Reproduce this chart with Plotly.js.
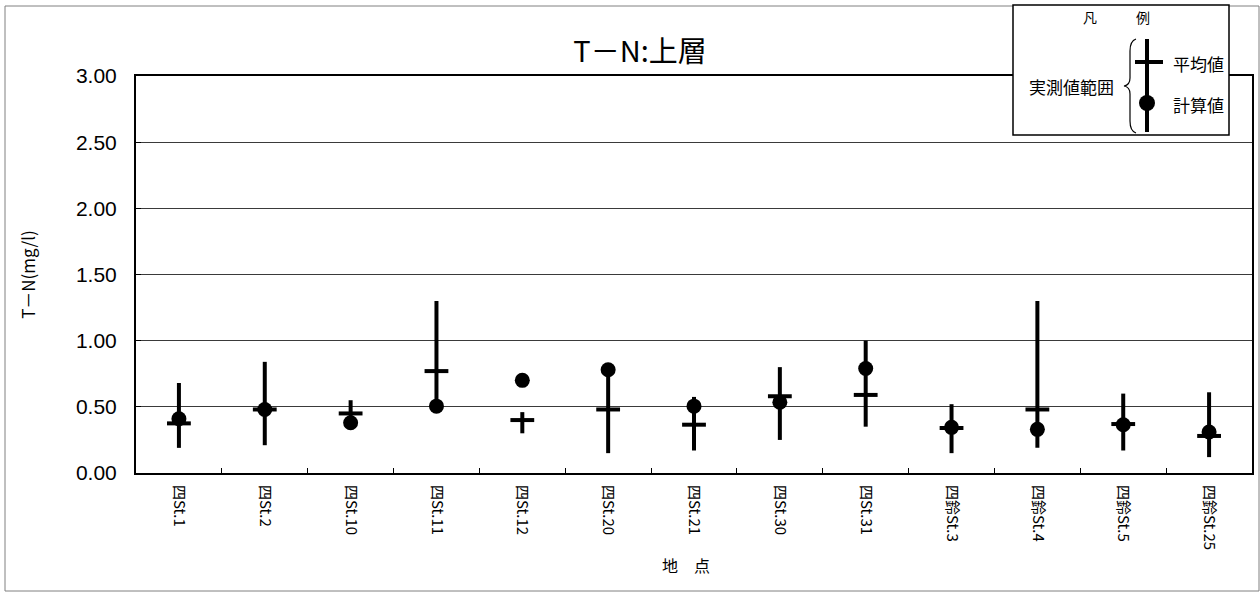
<!DOCTYPE html>
<html>
<head>
<meta charset="utf-8">
<script src="https://cdn.plot.ly/plotly-3.0.1.min.js"></script>
<style>html,body{margin:0;padding:0;background:#fff;}#chart{width:1260px;height:592px;}</style>
</head>
<body>
<div id="chart"></div>
<script>
// ---- data ----
const sites = ['四St.1','四St.2','四St.10','四St.11','四St.12','四St.20','四St.21','四St.30','四St.31','四鈴St.3','四鈴St.4','四鈴St.5','四鈴St.25'];
const rangeMax = [0.68, 0.84, 0.55, 1.30, 0.46, 0.78, 0.575, 0.80, 1.00, 0.52, 1.30, 0.60, 0.61];
const rangeMin = [0.19, 0.21, 0.38, 0.50, 0.30, 0.15, 0.17, 0.25, 0.35, 0.15, 0.19, 0.17, 0.12];
const meanVals = [0.375, 0.48, 0.45, 0.77, 0.40, 0.48, 0.365, 0.58, 0.59, 0.34, 0.48, 0.37, 0.28];
const calcVals = [0.41, 0.48, 0.38, 0.505, 0.70, 0.78, 0.505, 0.535, 0.79, 0.345, 0.33, 0.365, 0.31];
const yTicks = [0, 0.5, 1.0, 1.5, 2.0, 2.5, 3.0];

const FONT = "'Liberation Sans', Arial, 'Noto Sans CJK JP', sans-serif";
const JFONT = "'Noto Sans CJK JP', 'Liberation Sans', sans-serif";

// plot-area pixel box -> paper coordinate helpers (for the hand-drawn legend)
const W = 1260, H = 592;
const M = {l: 136, r: 8, t: 76, b: 119};
const L = M.l, R = W - M.r, T = M.t, B = H - M.b;
const px = x => (x - L) / (R - L);
const py = y => (B - y) / (B - T);

const traces = [
  {
    type: 'scatter', mode: 'markers', x: sites, y: meanVals,
    marker: {symbol: 'line-ew', size: 17, color: 'black', line: {color: 'black', width: 4}},
    error_y: {
      type: 'data', symmetric: false,
      array: rangeMax.map((v, i) => v - meanVals[i]),
      arrayminus: meanVals.map((v, i) => v - rangeMin[i]),
      thickness: 4, width: 0, color: 'black'
    },
    name: '平均値', hoverinfo: 'x+y'
  },
  {
    type: 'scatter', mode: 'markers', x: sites, y: calcVals,
    marker: {symbol: 'circle', size: 15, color: 'black'},
    name: '計算値', hoverinfo: 'x+y'
  }
];

const braceX = 1126, braceTop = 39, braceBot = 133, braceMid = 86;
const bracePath =
  `M ${px(braceX + 10)},${py(braceTop)} Q ${px(braceX + 4)},${py(braceTop + 2)} ${px(braceX + 4)},${py(braceTop + 12)} ` +
  `L ${px(braceX + 4)},${py(braceMid - 8)} Q ${px(braceX + 4)},${py(braceMid - 1)} ${px(braceX - 2)},${py(braceMid)} ` +
  `Q ${px(braceX + 4)},${py(braceMid + 1)} ${px(braceX + 4)},${py(braceMid + 8)} ` +
  `L ${px(braceX + 4)},${py(braceBot - 12)} Q ${px(braceX + 4)},${py(braceBot - 2)} ${px(braceX + 10)},${py(braceBot)}`;

const shapes = [
  // outer frame of the whole chart
  {type: 'rect', xref: 'paper', yref: 'paper', x0: px(5), x1: px(1259), y0: py(591), y1: py(6),
   line: {color: '#808080', width: 1}, layer: 'below'},
  // legend box
  {type: 'rect', xref: 'paper', yref: 'paper', x0: px(1013), x1: px(1229), y0: py(135), y1: py(5),
   fillcolor: 'white', line: {color: 'black', width: 1.5}, layer: 'above'},
  {type: 'line', xref: 'paper', yref: 'paper', x0: px(1147), x1: px(1147), y0: py(132), y1: py(39),
   line: {color: 'black', width: 4}, layer: 'above'},
  {type: 'line', xref: 'paper', yref: 'paper', x0: px(1135), x1: px(1163), y0: py(62), y1: py(62),
   line: {color: 'black', width: 4}, layer: 'above'},
  {type: 'circle', xref: 'paper', yref: 'paper', x0: px(1139), x1: px(1155), y0: py(111), y1: py(95),
   fillcolor: 'black', line: {color: 'black', width: 0}, layer: 'above'},
  {type: 'path', xref: 'paper', yref: 'paper', path: bracePath,
   line: {color: 'black', width: 1.2}, layer: 'above'}
];

const ann = (text, x, y, size, fam) => ({
  text, xref: 'paper', yref: 'paper', x: px(x), y: py(y), xanchor: 'center', yanchor: 'middle',
  showarrow: false, font: {family: fam || JFONT, size: size, color: 'black'}
});

const annotations = [
  ann('凡', 1090, 17, 14), ann('例', 1143, 17, 14),
  ann('実測値範囲', 1071, 87, 17),
  ann('平均値', 1198, 63, 17),
  ann('計算値', 1198, 104, 17),
  ann('地　点', 686, 565, 16)
];

const layout = {
  width: W, height: H,
  margin: M,
  paper_bgcolor: 'white', plot_bgcolor: 'white',
  showlegend: false,
  font: {family: FONT, color: 'black'},
  title: {text: 'T－N:上層', x: 640 / W, xref: 'container', y: 1 - 52 / H, yref: 'container',
          xanchor: 'center', yanchor: 'middle', font: {family: JFONT, size: 29, color: 'black'}},
  xaxis: {
    type: 'category', categoryorder: 'array', categoryarray: sites, range: [-0.5, sites.length - 0.5],
    tickangle: 90, tickfont: {family: JFONT, size: 15, color: 'black'}, ticklabelstandoff: 7,
    ticks: 'inside', tickson: 'boundaries', ticklen: 5, tickcolor: 'black', tickwidth: 1,
    showline: true, linecolor: 'black', linewidth: 2, mirror: true,
    showgrid: false, zeroline: false, fixedrange: true
  },
  yaxis: {
    range: [0, 3], tickvals: yTicks, tickformat: '.2f',
    tickfont: {family: FONT, size: 21, color: 'black'}, ticklabelstandoff: 13,
    ticks: 'inside', ticklen: 5, tickcolor: 'black', tickwidth: 1,
    showline: true, linecolor: 'black', linewidth: 2, mirror: true,
    showgrid: true, gridcolor: '#3a3a3a', gridwidth: 1, zeroline: false,
    title: {text: 'T－N(mg/l)', font: {family: JFONT, size: 17, color: 'black'}, standoff: 36},
    automargin: false, fixedrange: true
  },
  shapes, annotations
};

Plotly.newPlot('chart', traces, layout, {displayModeBar: false, staticPlot: true});
</script>
</body>
</html>
